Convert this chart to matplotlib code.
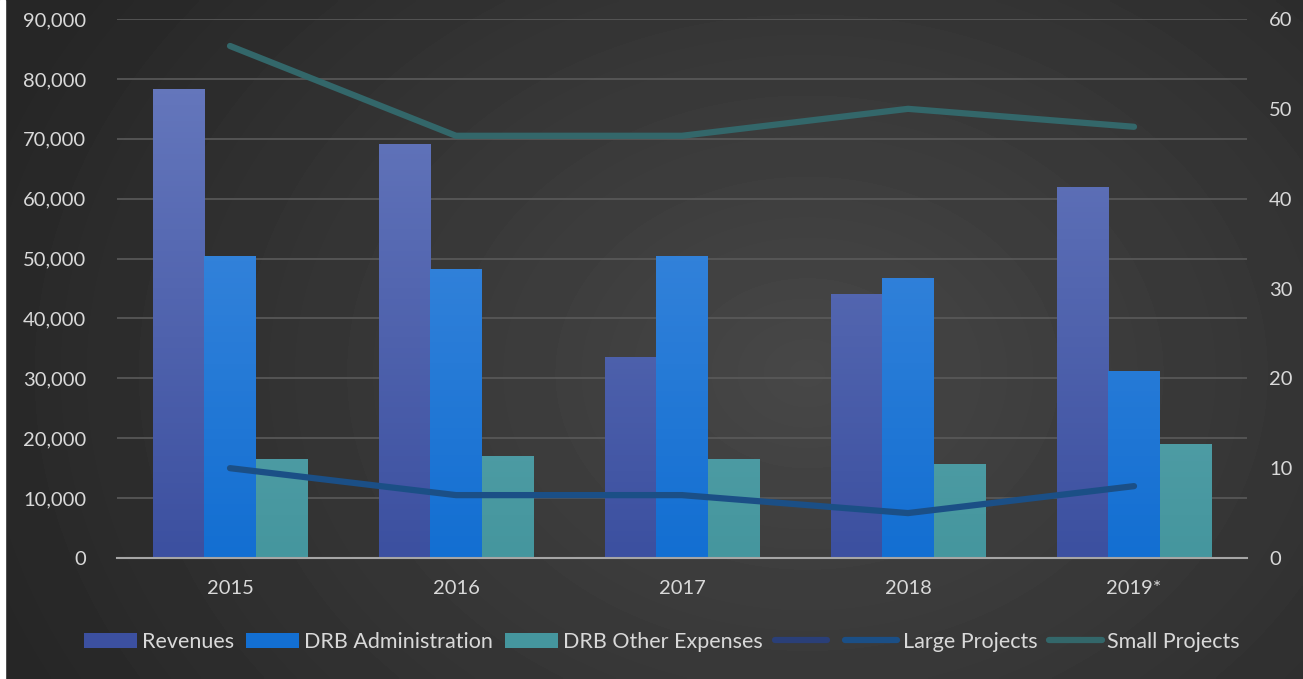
import numpy as np
import matplotlib
matplotlib.use("Agg")
import matplotlib.pyplot as plt
from matplotlib.lines import Line2D
from matplotlib.colors import LinearSegmentedColormap
from matplotlib.ticker import FuncFormatter

plt.rcParams['font.family'] = ['Lato', 'DejaVu Sans']

# data
years = ['2015', '2016', '2017', '2018', '2019*']
revenues = [78300, 69100, 33600, 44100, 62000]
drb_admin = [50400, 48300, 50400, 46800, 31200]
drb_other = [16500, 17000, 16500, 15700, 19000]
large_projects = [10, 7, 7, 5, 8]
small_projects = [57, 47, 47, 50, 48]

W, H = 1303, 679
fig = plt.figure(figsize=(W / 100, H / 100), dpi=100)

# radial-ish dark background
bg = fig.add_axes([0, 0, 1, 1], zorder=-10)
yy, xx = np.mgrid[0:1:200j, 0:1:400j]
r = np.sqrt(((xx - 0.62) * 1.5) ** 2 + ((yy - 0.55) * 1.0) ** 2)
bg.imshow(0.28 - 0.13 * np.clip(r, 0, 1), cmap='gray', vmin=0, vmax=1,
          extent=[0, 1, 0, 1], aspect='auto', interpolation='bilinear')
bg.axvspan(0, 5 / W, color='white')
bg.set_xlim(0, 1)
bg.set_ylim(0, 1)
bg.axis('off')

ax = fig.add_axes([117 / W, 121 / H, 1130 / W, 539 / H])
ax.patch.set_alpha(0)
ax2 = ax.twinx()

x = np.arange(len(years))
bw = 0.226
bar_sets = [
    (revenues, -bw, '#6a7cc0', '#3c50a0', 'Revenues'),
    (drb_admin, 0, '#4a90e0', '#136fd2', 'DRB Administration'),
    (drb_other, bw, '#6db1ba', '#45969e', 'DRB Other Expenses'),
]
handles = []
for vals, off, ctop, cbot, lab in bar_sets:
    bars = ax.bar(x + off, vals, bw, color=cbot, label=lab, zorder=2)
    cmap = LinearSegmentedColormap.from_list('g', [cbot, ctop])
    grad = np.linspace(0, 1, 100).reshape(-1, 1)
    for b in bars:
        bx = b.get_x()
        im = ax.imshow(grad, cmap=cmap, origin='lower', aspect='auto',
                       extent=[bx, bx + b.get_width(), 0, 90000], zorder=2)
        im.set_clip_path(b)
    handles.append(bars)

ax.set_xlim(-0.5, len(years) - 0.5)
ax.set_ylim(0, 90000)
ax.set_yticks(np.arange(0, 90001, 10000))
ax.yaxis.set_major_formatter(FuncFormatter(lambda v, p: f'{int(v):,}'))
ax.set_xticks(x)
ax.set_xticklabels(years)
ax.grid(axis='y', color='#5a5a5a', linewidth=1.2, zorder=0)
ax.set_axisbelow(True)

l1, = ax2.plot(x, large_projects, color='#1b4f86', linewidth=4.5,
               solid_capstyle='round', label='Large Projects', zorder=3)
l2, = ax2.plot(x, small_projects, color='#33676a', linewidth=4.5,
               solid_capstyle='round', label='Small Projects', zorder=3)
ax2.set_ylim(0, 60)
ax2.set_yticks(np.arange(0, 61, 10))

for a in (ax, ax2):
    for s in a.spines.values():
        s.set_visible(False)
    a.tick_params(length=0, colors='#d9d9d9', labelsize=14.5)
ax.tick_params(axis='x', pad=16)
ax.tick_params(axis='y', pad=22)
ax2.tick_params(axis='y', pad=16)
ax.spines['bottom'].set_visible(True)
ax.spines['bottom'].set_color('#a6a6a6')
ax.spines['bottom'].set_linewidth(1.5)

blank = Line2D([], [], color='#2a3f78', linewidth=4.5, solid_capstyle='round')
leg_h = handles + [blank, l1, l2]
leg_l = ['Revenues', 'DRB Administration', 'DRB Other Expenses', '',
         'Large Projects', 'Small Projects']
fig.legend(leg_h, leg_l, loc='center', bbox_to_anchor=(0.508, 37 / H), ncol=6,
           frameon=False, fontsize=15.5, labelcolor='#d9d9d9',
           handlelength=2.45, handletextpad=0.25, columnspacing=0.55)

fig.savefig('out.png', dpi=100)
